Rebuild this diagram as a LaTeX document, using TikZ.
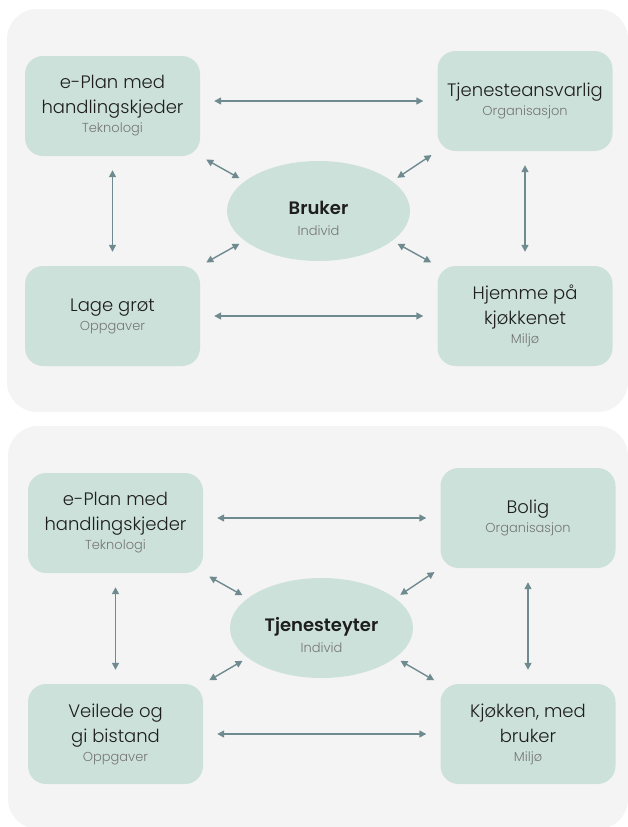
\documentclass[tikz,border=0pt]{standalone}
\usepackage{fontspec}
\setmainfont{Poppins}[UprightFont=* Light, BoldFont=* SemiBold]
\usetikzlibrary{arrows.meta}
\usetikzlibrary{shapes.geometric}

\definecolor{panelgray}{HTML}{F4F4F4}
\definecolor{sage}{HTML}{CDE1DB}
\definecolor{slate}{HTML}{6F8B90}
\definecolor{ink}{HTML}{1E1E1E}
\definecolor{subgray}{HTML}{767676}

\newcommand{\sub}[1]{{\normalfont\fontsize{13}{14}\selectfont\color{subgray}#1}}

\begin{document}
\begin{tikzpicture}[x=1pt, y=-1pt,
    panel/.style={fill=panelgray, rounded corners=30pt},
    area/.style={fill=sage, rounded corners=18pt, minimum width=175pt,
	minimum height=100pt, inner sep=0pt, align=center, text=ink,
	font=\fontsize{18}{25}\selectfont},
    who/.style={ellipse, fill=sage, minimum width=183pt, minimum height=100pt,
	inner sep=0pt},
    whotext/.style={align=center, text=ink, inner sep=0pt,
	font=\fontsize{18}{25}\selectfont\bfseries},
    link/.style={<->, slate, line width=1.4pt, shorten <=14pt, shorten >=14pt},
    tilt/.style={<->, slate, line width=1.4pt, shorten <=7pt, shorten >=6pt},
    >={Triangle[length=7pt,width=7pt]}]
    \useasboundingbox (0,0) rectangle (627,827);

    % user
    \fill [panel] (7,9) rectangle (628,412);
    \path (112.5,106) node [area] (plan1) {e-Plan med\\handlingskjeder\\[-6pt]\sub{Teknologi}};
    \path (525,101) node [area] (ansv1) {Tjenesteansvarlig\\[-6pt]\sub{Organisasjon}};
    \path (112.5,316) node [area] (oppg1) {Lage grøt\\[-6pt]\sub{Oppgaver}};
    \path (525,316) node [area] (milj1) {Hjemme på\\kjøkkenet\\[-6pt]\sub{Miljø}};
    \path (318.5,211) node [who] (ind1) {};
    \path (318.5,218) node [whotext] (ind1t) {Bruker\\[-4pt]\sub{Individ}};
    \draw [link] (plan1.east |- ansv1) -- (ansv1.west);
    \draw [link] (oppg1) -- (milj1);
    \draw [link] (plan1) -- (oppg1);
    \draw [link] (ansv1) -- (milj1);
    \draw [tilt] (plan1.south east) -- (ind1.158);
    \draw [tilt] (ansv1.south west) -- (ind1.22);
    \draw [tilt] (oppg1.north east) -- (ind1.202);
    \draw [tilt] (milj1.north west) -- (ind1.338);

    % provider
    \fill [panel] (8,426) rectangle (628,829);
    \path (115.5,523) node [area] (plan2) {e-Plan med\\handlingskjeder\\[-6pt]\sub{Teknologi}};
    \path (528,518) node [area] (bolig2) {Bolig\\[-6pt]\sub{Organisasjon}};
    \path (115.5,734) node [area] (oppg2) {Veilede og\\gi bistand\\[-6pt]\sub{Oppgaver}};
    \path (528,734) node [area] (milj2) {Kjøkken, med\\bruker\\[-6pt]\sub{Miljø}};
    \path (321.5,628) node [who] (ind2) {};
    \path (321.5,635) node [whotext] (ind2t) {Tjenesteyter\\[-4pt]\sub{Individ}};
    \draw [link] (plan2.east |- bolig2) -- (bolig2.west);
    \draw [link] (oppg2) -- (milj2);
    \draw [link] (plan2) -- (oppg2);
    \draw [link] (bolig2) -- (milj2);
    \draw [tilt] (plan2.south east) -- (ind2.158);
    \draw [tilt] (bolig2.south west) -- (ind2.22);
    \draw [tilt] (oppg2.north east) -- (ind2.202);
    \draw [tilt] (milj2.north west) -- (ind2.338);
\end{tikzpicture}
\end{document}
